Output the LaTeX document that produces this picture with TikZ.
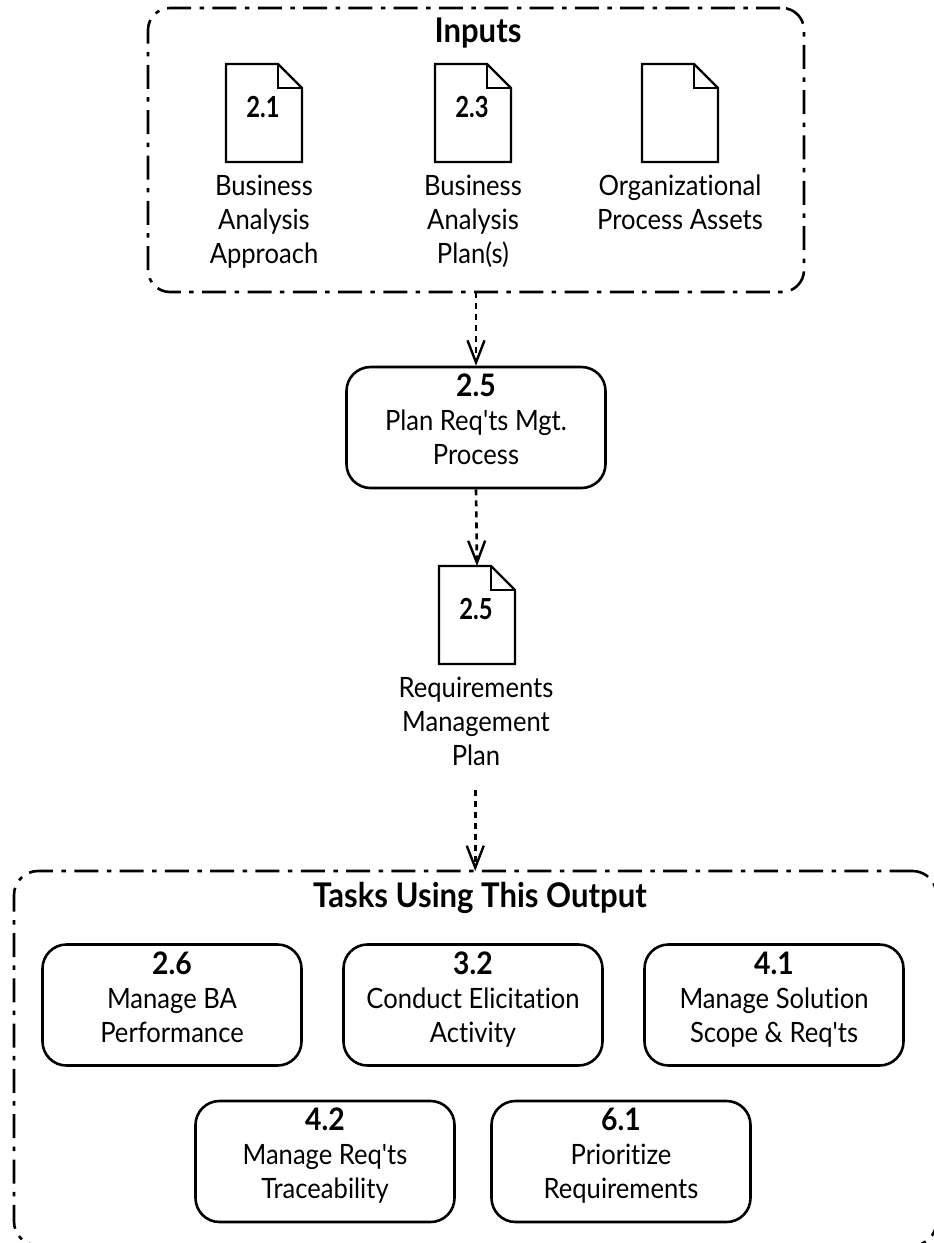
\documentclass[tikz,border=0pt]{standalone}
\usepackage{fontspec}
\setmainfont[FakeStretch=0.914,Ligatures={NoCommon,TeXOff}]{Lato}
\newfontfamily\numfont[FakeStretch=0.82,Ligatures=NoCommon]{Lato}
\usetikzlibrary{arrows.meta, positioning}
\tikzset{
  dashdot/.style={line width=2.6pt, dash pattern=on 24pt off 8.3pt on 4.5pt off 8.5pt},
  groupbox/.style={draw, dashdot, rounded corners=22pt, inner sep=0pt, outer sep=0pt},
  taskbox/.style={draw, line width=2.6pt, rounded corners=24pt, minimum width=259pt, minimum height=121pt,
    inner sep=0pt, outer sep=1.3pt, align=center, font=\fontsize{28}{34}\selectfont},
  docbox/.style={minimum width=76pt, minimum height=98pt, inner sep=0pt, outer sep=0pt},
  doclabel/.style={align=center, inner sep=0pt, font=\fontsize{28}{34}\selectfont},
  grouptitle/.style={inner sep=0pt, font=\fontsize{34}{34}\selectfont\bfseries},
  flow/.style={line width=2.6pt, dash pattern=on 6pt off 5pt, -{Straight Barb[length=22pt, width=17pt, line width=2.4pt]}}
}
\newcommand{\tasktext}[3]{{\fontsize{31}{34}\selectfont\bfseries #1}\\#2\\#3\\[-18pt]\mbox{}}
% sheet with folded corner
\newcommand{\docsheet}[3]{
  \node[docbox] (#1) at #2 {};
  \draw[line width=2.4pt, line join=miter] (#1.south west) -- (#1.north west) -- ([xshift=-24pt]#1.north east)
    -- ([yshift=-24pt]#1.north east) -- (#1.south east) -- cycle;
  \draw[line width=2.4pt] ([xshift=-24pt]#1.north east) |- ([yshift=-24pt]#1.north east);
  \node[anchor=center, inner sep=0pt, font=\fontsize{29}{30}\selectfont\numfont\bfseries] (#1num) at ([xshift=-1pt,yshift=-43pt]#1.north) {#3};
}
\begin{document}
\begin{tikzpicture}[x=1pt, y=-1pt]
\useasboundingbox (0,0) rectangle (934,1243);
\clip (0,0) rectangle (934,1243);

% inputs
\node[groupbox, dash phase=43.35pt, minimum width=656pt, minimum height=284pt] (inputs) at (476,150) {};
\node[grouptitle] (inputstitle) at (478,33) {Inputs};
\docsheet{approachdoc}{(264,113)}{2.1}
\docsheet{plandoc}{(473,113)}{2.3}
\docsheet{assetsdoc}{(680,113)}{}
\node[doclabel, anchor=north] (approachlabel) at (264,175) {Business\\Analysis\\Approach};
\node[doclabel, anchor=north] (planlabel) at (473,175) {Business\\Analysis\\Plan(s)};
\node[doclabel, anchor=north] (assetslabel) at (680,175) {Organizational\\Process Assets};

% the task and its output
\node[taskbox] (plantask) at (476,427.5) {\tasktext{2.5}{Plan Req'ts Mgt.}{Process}};
\docsheet{reqdoc}{(477,615)}{2.5}
\node[doclabel, anchor=north] (reqlabel) at (476,677) {Requirements\\Management\\Plan};
\coordinate (reqout) at (475.25,790);

\draw[flow] (inputs.south) -- (plantask.north);
\draw[flow] (plantask.south) -- (reqdoc.north);

% tasks using the output
\node[groupbox, rounded corners=24pt, dash phase=1.15pt, minimum width=922.5pt, minimum height=374.5pt] (tasks) at (475.25,1058.25) {};
\node[grouptitle] (taskstitle) at (480,898) {Tasks Using This Output};
\draw[flow] (reqout) -- (tasks.north);
\node[taskbox] (batask) at (172,1005) {\tasktext{2.6}{Manage BA}{Performance}};
\node[taskbox] (elicittask) at (473,1005) {\tasktext{3.2}{Conduct Elicitation}{Activity}};
\node[taskbox] (scopetask) at (774,1005) {\tasktext{4.1}{Manage Solution}{Scope \& Req'ts}};
\node[taskbox] (tracetask) at (325,1161.5) {\tasktext{4.2}{Manage Req'ts}{Traceability}};
\node[taskbox] (prioritask) at (621,1161.5) {\tasktext{6.1}{Prioritize}{Requirements}};
\end{tikzpicture}
\end{document}
